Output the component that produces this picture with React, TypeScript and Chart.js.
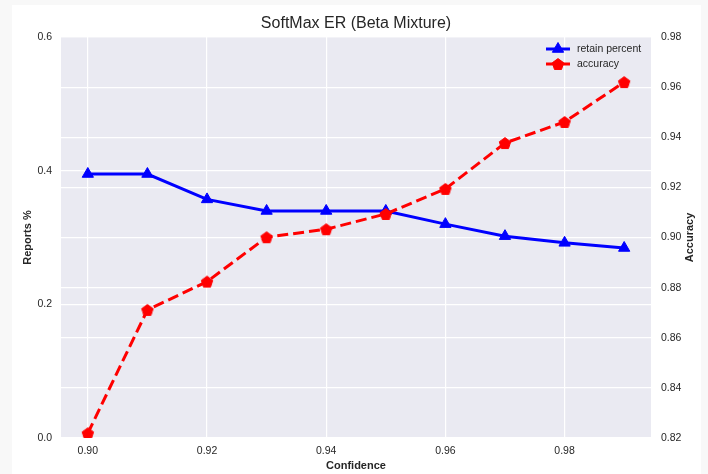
import React, { useEffect, useRef } from "react";
import { Chart, registerables } from "chart.js";

Chart.register(...registerables);

// Confidence thresholds on the x axis
const confidence = [0.9, 0.91, 0.92, 0.93, 0.94, 0.95, 0.96, 0.97, 0.98, 0.99];
// Share of reports retained (left axis)
const retainPercent = [0.395, 0.395, 0.357, 0.3397, 0.3397, 0.3397, 0.32, 0.302, 0.292, 0.2843];
// Accuracy on retained reports (right axis)
const accuracy = [0.8219, 0.8711, 0.8824, 0.9001, 0.9033, 0.9094, 0.9194, 0.9377, 0.9461, 0.962];

const xTicks = [0.9, 0.92, 0.94, 0.96, 0.98];
const leftTicks = [0.0, 0.2, 0.4, 0.6];
const rightTicks = [0.82, 0.84, 0.86, 0.88, 0.9, 0.92, 0.94, 0.96, 0.98];

const FONT = "'Liberation Sans', Arial, sans-serif";
const TEXT = "#262626";
const PLOT_BG = "#EAEAF2";

function pentagonPath(ctx: CanvasRenderingContext2D, cx: number, cy: number, r: number) {
  ctx.beginPath();
  for (let i = 0; i < 5; i++) {
    const a = -Math.PI / 2 + (i * 2 * Math.PI) / 5;
    const px = cx + r * Math.cos(a);
    const py = cy + r * Math.sin(a);
    if (i === 0) ctx.moveTo(px, py);
    else ctx.lineTo(px, py);
  }
  ctx.closePath();
}

function trianglePath(ctx: CanvasRenderingContext2D, cx: number, cy: number, r: number) {
  ctx.beginPath();
  for (let i = 0; i < 3; i++) {
    const a = -Math.PI / 2 + (i * 2 * Math.PI) / 3;
    const px = cx + r * Math.cos(a);
    const py = cy + r * Math.sin(a);
    if (i === 0) ctx.moveTo(px, py);
    else ctx.lineTo(px, py);
  }
  ctx.closePath();
}

function makePentagon(color: string, r: number): HTMLCanvasElement {
  const size = Math.ceil(r * 2 + 4);
  const c = document.createElement("canvas");
  c.width = size;
  c.height = size;
  const g = c.getContext("2d")!;
  pentagonPath(g, size / 2, size / 2 + r * 0.1, r);
  g.fillStyle = color;
  g.fill();
  g.lineWidth = 1;
  g.strokeStyle = color;
  g.stroke();
  return c;
}

const decorations = {
  id: "decorations",
  beforeDraw(chart: any) {
    const { ctx, chartArea: a, width, height } = chart;
    ctx.save();
    ctx.fillStyle = "#f8f8f8";
    ctx.fillRect(0, 0, width, height);
    ctx.fillStyle = "#ffffff";
    ctx.fillRect(12, 5, 689, height - 5);
    ctx.fillStyle = PLOT_BG;
    ctx.fillRect(a.left, a.top, a.right - a.left, a.bottom - a.top);
    ctx.restore();
  },
  afterDraw(chart: any) {
    const { ctx, chartArea: a } = chart;
    const cx = (a.left + a.right) / 2;
    const cy = (a.top + a.bottom) / 2;
    ctx.save();
    ctx.fillStyle = TEXT;
    ctx.textAlign = "center";
    ctx.textBaseline = "alphabetic";
    ctx.font = `16px ${FONT}`;
    ctx.fillText("SoftMax ER (Beta Mixture)", cx, 28);

    ctx.font = `bold 11px ${FONT}`;
    ctx.textBaseline = "middle";
    ctx.fillText("Confidence", cx, 466);

    ctx.save();
    ctx.translate(28, cy);
    ctx.rotate(-Math.PI / 2);
    ctx.fillText("Reports %", 0, 0);
    ctx.restore();

    ctx.save();
    ctx.translate(690, cy);
    ctx.rotate(-Math.PI / 2);
    ctx.fillText("Accuracy", 0, 0);
    ctx.restore();

    // legend
    const lx0 = 546;
    const lx1 = 570;
    const items = [
      { label: "retain percent", color: "#0000ff", y: 49, dash: [] as number[], marker: "tri" },
      { label: "accuracy", color: "#ff0000", y: 64, dash: [11, 5], marker: "pent" },
    ];
    for (const it of items) {
      ctx.strokeStyle = it.color;
      ctx.lineWidth = 3;
      ctx.setLineDash(it.dash);
      ctx.beginPath();
      ctx.moveTo(lx0, it.y);
      ctx.lineTo(lx1, it.y);
      ctx.stroke();
      ctx.setLineDash([]);
      ctx.fillStyle = it.color;
      if (it.marker === "tri") trianglePath(ctx, (lx0 + lx1) / 2, it.y, 6.5);
      else pentagonPath(ctx, (lx0 + lx1) / 2, it.y + 0.6, 6);
      ctx.fill();
      ctx.lineWidth = 1;
      ctx.stroke();
      ctx.fillStyle = TEXT;
      ctx.font = `10.5px ${FONT}`;
      ctx.textAlign = "left";
      ctx.textBaseline = "middle";
      ctx.fillText(it.label, 577, it.y);
    }
    ctx.restore();
  },
};

export default function App() {
  const ref = useRef<HTMLCanvasElement | null>(null);

  useEffect(() => {
    document.body.style.margin = "0";
    const canvas = ref.current;
    if (!canvas) return;
    const pentagon = makePentagon("#ff0000", 6);

    const tickFont = { family: FONT, size: 10.5 };
    const grid = { color: "#ffffff", lineWidth: 1.2, drawTicks: false };

    const chart = new Chart(canvas, {
      type: "line",
      data: {
        datasets: [
          {
            label: "retain percent",
            data: confidence.map((x, i) => ({ x, y: retainPercent[i] })),
            yAxisID: "y",
            borderColor: "#0000ff",
            backgroundColor: "#0000ff",
            borderWidth: 3,
            pointStyle: "triangle",
            pointRadius: 6.5,
            pointBorderWidth: 1,
            tension: 0,
            order: 2,
          },
          {
            label: "accuracy",
            data: confidence.map((x, i) => ({ x, y: accuracy[i] })),
            yAxisID: "y1",
            borderColor: "#ff0000",
            backgroundColor: "#ff0000",
            borderWidth: 3,
            borderDash: [11, 5],
            pointStyle: pentagon as any,
            pointRadius: 6,
            tension: 0,
            order: 1,
          },
        ],
      },
      options: {
        animation: false,
        responsive: false,
        devicePixelRatio: 1,
        layout: { padding: { top: 37, left: 0, right: 0, bottom: 0 } },
        plugins: {
          legend: { display: false },
          title: { display: false },
          tooltip: { enabled: false },
        },
        scales: {
          x: {
            type: "linear",
            min: 0.8955,
            max: 0.9945,
            border: { display: false },
            grid,
            afterBuildTicks: (s: any) => {
              s.ticks = xTicks.map((v) => ({ value: v }));
            },
            afterFit: (s: any) => {
              s.height = 36;
            },
            ticks: {
              font: tickFont,
              color: TEXT,
              padding: 7,
              maxRotation: 0,
              callback: (v: any) => Number(v).toFixed(2),
            },
          },
          y: {
            type: "linear",
            position: "left",
            min: 0,
            max: 0.6,
            border: { display: false },
            grid,
            afterBuildTicks: (s: any) => {
              s.ticks = leftTicks.map((v) => ({ value: v }));
            },
            afterFit: (s: any) => {
              s.width = 61;
            },
            ticks: {
              font: tickFont,
              color: TEXT,
              padding: 9,
              callback: (v: any) => Number(v).toFixed(1),
            },
          },
          y1: {
            type: "linear",
            position: "right",
            min: 0.82,
            max: 0.98,
            border: { display: false },
            grid,
            afterBuildTicks: (s: any) => {
              s.ticks = rightTicks.map((v) => ({ value: v }));
            },
            afterFit: (s: any) => {
              s.width = 57;
            },
            ticks: {
              font: tickFont,
              color: TEXT,
              padding: 10,
              callback: (v: any) => Number(v).toFixed(2),
            },
          },
        },
      },
      plugins: [decorations],
    });

    return () => chart.destroy();
  }, []);

  return (
    <div style={{ width: 708, height: 474 }}>
      <canvas ref={ref} width={708} height={474} style={{ display: "block", width: 708, height: 474 }} />
    </div>
  );
}
